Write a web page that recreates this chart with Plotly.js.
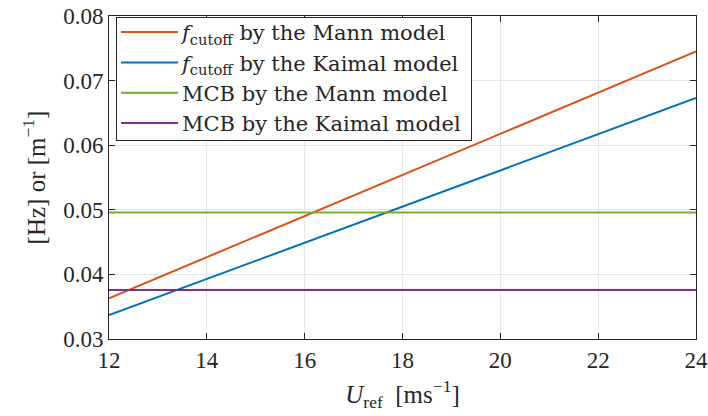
<!DOCTYPE html>
<html>
<head>
<meta charset="utf-8">
<script src="https://cdn.plot.ly/plotly-3.0.1.min.js"></script>
<style>
  html, body { margin: 0; padding: 0; background: #fff; }
  #chart { width: 708px; height: 416px; }
</style>
</head>
<body>
<div id="chart"></div>
<script>
// Reference wind speed range [m/s]
const uRef = [12, 24];

// Cut-off frequency estimates, linear in U_ref
const fcutMann = [0.0363, 0.0745];
const fcutKaimal = [0.0337, 0.0673];

// Constant MCB levels
const mcbMann = [0.0496, 0.0496];
const mcbKaimal = [0.0376, 0.0376];

const seriesNames = [
  '<i>f</i><sub>cutoff</sub> by the Mann model',
  '<i>f</i><sub>cutoff</sub> by the Kaimal model',
  'MCB by the Mann model',
  'MCB by the Kaimal model'
];

const xTicks = [12, 14, 16, 18, 20, 22, 24];
const yTicks = [0.03, 0.04, 0.05, 0.06, 0.07, 0.08];
const yTickText = ['0.03', '0.04', '0.05', '0.06', '0.07', '0.08'];

const colors = ['#D95319', '#0072BD', '#77AC30', '#7E2F8E'];
const series = [fcutMann, fcutKaimal, mcbMann, mcbKaimal];

const traces = series.map((ys, i) => ({
  x: uRef,
  y: ys,
  type: 'scatter',
  mode: 'lines',
  name: seriesNames[i],
  line: { color: colors[i], width: 2 }
}));

const serif = 'Liberation Serif, DejaVu Serif, serif';
const axisCommon = {
  showline: true,
  linecolor: '#262626',
  linewidth: 1,
  mirror: 'ticks',
  ticks: 'inside',
  ticklen: 6,
  tickcolor: '#262626',
  showgrid: true,
  gridcolor: '#e6e6e6',
  gridwidth: 1,
  zeroline: false,
  tickfont: { family: serif, size: 23, color: '#262626' }
};

const layout = {
  width: 708,
  height: 416,
  margin: { l: 109, r: 12, t: 16, b: 77 },
  paper_bgcolor: '#ffffff',
  plot_bgcolor: '#ffffff',
  showlegend: true,
  legend: {
    x: 0.012, y: 0.997, xanchor: 'left', yanchor: 'top',
    bgcolor: '#ffffff',
    bordercolor: '#262626',
    borderwidth: 1,
    itemwidth: 55,
    font: { family: 'DejaVu Serif, serif', size: 21, color: '#262626' },
    tracegroupgap: 0
  },
  xaxis: Object.assign({}, axisCommon, {
    range: [12, 24],
    tickvals: xTicks,
    ticktext: xTicks.map(String),
    title: { text: '<i>U</i><sub>ref</sub>  [ms<sup>−1</sup>]', font: { family: serif, size: 25, color: '#262626' }, standoff: 13 }
  }),
  yaxis: Object.assign({}, axisCommon, {
    range: [0.03, 0.08],
    tickvals: yTicks,
    ticktext: yTickText,
    title: { text: '[Hz] or [m<sup>−1</sup>]', font: { family: serif, size: 25, color: '#262626' }, standoff: 10 }
  })
};

Plotly.newPlot('chart', traces, layout, { displayModeBar: false, staticPlot: true }).then(gd => {
  // lengthen the legend line samples to fill the wider item slot
  gd.querySelectorAll('.legend .legendlines path').forEach(p => {
    p.setAttribute('d', 'M4,0h57');
  });
  // tighten the legend box padding
  const bg = gd.querySelector('.legend rect.bg');
  if (bg) {
    const h = parseFloat(bg.getAttribute('height'));
    bg.setAttribute('height', h - 10);
    const w = parseFloat(bg.getAttribute('width'));
    bg.setAttribute('width', w + 5);
  }
  const box = gd.querySelector('.legend .scrollbox');
  if (box) {
    const t = box.getAttribute('transform') || '';
    box.setAttribute('transform', t + ' translate(0,-6)');
  }
});
</script>
</body>
</html>
